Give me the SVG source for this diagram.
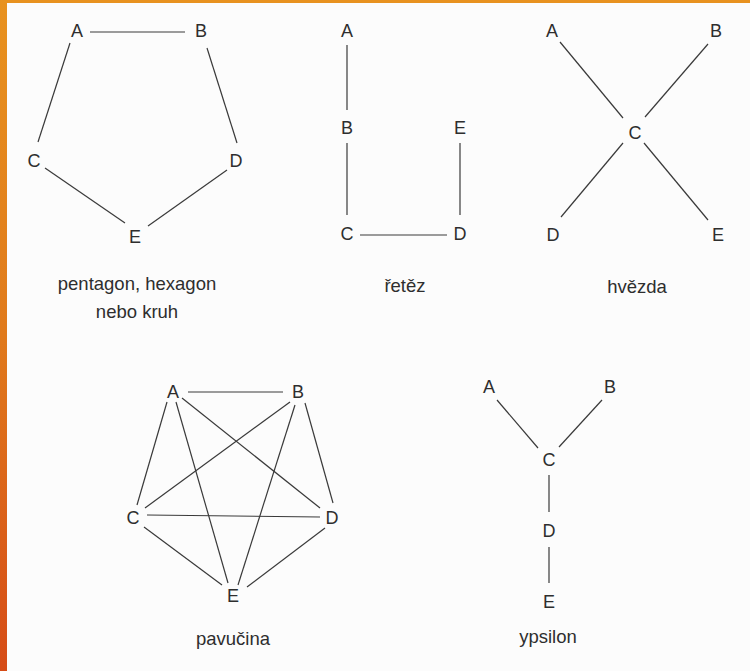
<svg xmlns="http://www.w3.org/2000/svg" width="750" height="671" viewBox="0 0 750 671">
<defs>
<linearGradient id="edge" x1="0" y1="0" x2="0" y2="1">
<stop offset="0" stop-color="#e8921f"/>
<stop offset="0.5" stop-color="#e07a1c"/>
<stop offset="1" stop-color="#d64c17"/>
</linearGradient>
<style>
.n text{font-family:"Liberation Sans",Arial,sans-serif;font-size:18px;fill:#2e2e2e;text-anchor:middle}
.cap{font-family:"Liberation Sans",Arial,sans-serif;font-size:18.5px;fill:#2e2e2e;text-anchor:middle}
#connectors line{stroke:#3a3a3a;stroke-width:1.2;fill:none}
</style>
</defs>
<rect width="750" height="671" fill="#fcfcfc"/>
<rect x="0" y="0" width="750" height="3" fill="#e8921f"/>
<rect x="0" y="0" width="7" height="671" fill="url(#edge)"/>

<g id="connectors">
<!-- pentagon -->
<line x1="90" y1="32" x2="185" y2="32"/>
<line x1="70" y1="43" x2="38" y2="142"/>
<line x1="207" y1="48" x2="237" y2="143"/>
<line x1="45" y1="168" x2="125" y2="223"/>
<line x1="227" y1="170" x2="148" y2="226"/>
<!-- chain -->
<line x1="347" y1="45" x2="347" y2="110"/>
<line x1="347" y1="143" x2="347" y2="215"/>
<line x1="460" y1="143" x2="460" y2="215"/>
<line x1="360" y1="235" x2="447" y2="235"/>
<!-- star -->
<line x1="560" y1="42" x2="623" y2="118"/>
<line x1="708" y1="44" x2="645" y2="117"/>
<line x1="623" y1="143" x2="561" y2="217"/>
<line x1="644" y1="143" x2="708" y2="220"/>
<!-- web -->
<line x1="188" y1="392" x2="283" y2="392"/>
<line x1="167" y1="402" x2="137" y2="505"/>
<line x1="176" y1="402" x2="228" y2="583"/>
<line x1="182" y1="398" x2="320" y2="508"/>
<line x1="290" y1="402" x2="145" y2="508"/>
<line x1="295" y1="405" x2="238" y2="585"/>
<line x1="305" y1="403" x2="333" y2="503"/>
<line x1="147" y1="515" x2="320" y2="517"/>
<line x1="144" y1="527" x2="222" y2="585"/>
<line x1="325" y1="528" x2="247" y2="587"/>
<!-- ypsilon -->
<line x1="497" y1="400" x2="538" y2="448"/>
<line x1="602" y1="400" x2="559" y2="447"/>
<line x1="549" y1="475" x2="549" y2="512"/>
<line x1="549" y1="547" x2="549" y2="583"/>
</g>

<g id="pentagon">
<g id="p-A" class="n"><text x="77" y="37">A</text></g>
<g id="p-B" class="n"><text x="201" y="37">B</text></g>
<g id="p-C" class="n"><text x="34" y="167">C</text></g>
<g id="p-D" class="n"><text x="236" y="167">D</text></g>
<g id="p-E" class="n"><text x="135" y="243">E</text></g>
<text class="cap" x="137" y="290">pentagon, hexagon</text>
<text class="cap" x="137" y="318">nebo kruh</text>
</g>

<g id="chain">
<g id="c-A" class="n"><text x="347" y="37">A</text></g>
<g id="c-B" class="n"><text x="347" y="134">B</text></g>
<g id="c-E" class="n"><text x="460" y="134">E</text></g>
<g id="c-C" class="n"><text x="347" y="240">C</text></g>
<g id="c-D" class="n"><text x="460" y="240">D</text></g>
<text class="cap" x="405" y="292">řetěz</text>
</g>

<g id="star">
<g id="s-A" class="n"><text x="552" y="37">A</text></g>
<g id="s-B" class="n"><text x="716" y="37">B</text></g>
<g id="s-C" class="n"><text x="635" y="139">C</text></g>
<g id="s-D" class="n"><text x="553" y="241">D</text></g>
<g id="s-E" class="n"><text x="718" y="241">E</text></g>
<text class="cap" x="637" y="293">hvězda</text>
</g>

<g id="web">
<g id="w-A" class="n"><text x="173" y="398">A</text></g>
<g id="w-B" class="n"><text x="298" y="398">B</text></g>
<g id="w-C" class="n"><text x="133" y="524">C</text></g>
<g id="w-D" class="n"><text x="332" y="524">D</text></g>
<g id="w-E" class="n"><text x="233" y="602">E</text></g>
<text class="cap" x="233" y="645">pavučina</text>
</g>

<g id="ypsilon">
<g id="y-A" class="n"><text x="489" y="393">A</text></g>
<g id="y-B" class="n"><text x="610" y="393">B</text></g>
<g id="y-C" class="n"><text x="549" y="466">C</text></g>
<g id="y-D" class="n"><text x="549" y="537">D</text></g>
<g id="y-E" class="n"><text x="549" y="608">E</text></g>
<text class="cap" x="548" y="643">ypsilon</text>
</g>
</svg>
